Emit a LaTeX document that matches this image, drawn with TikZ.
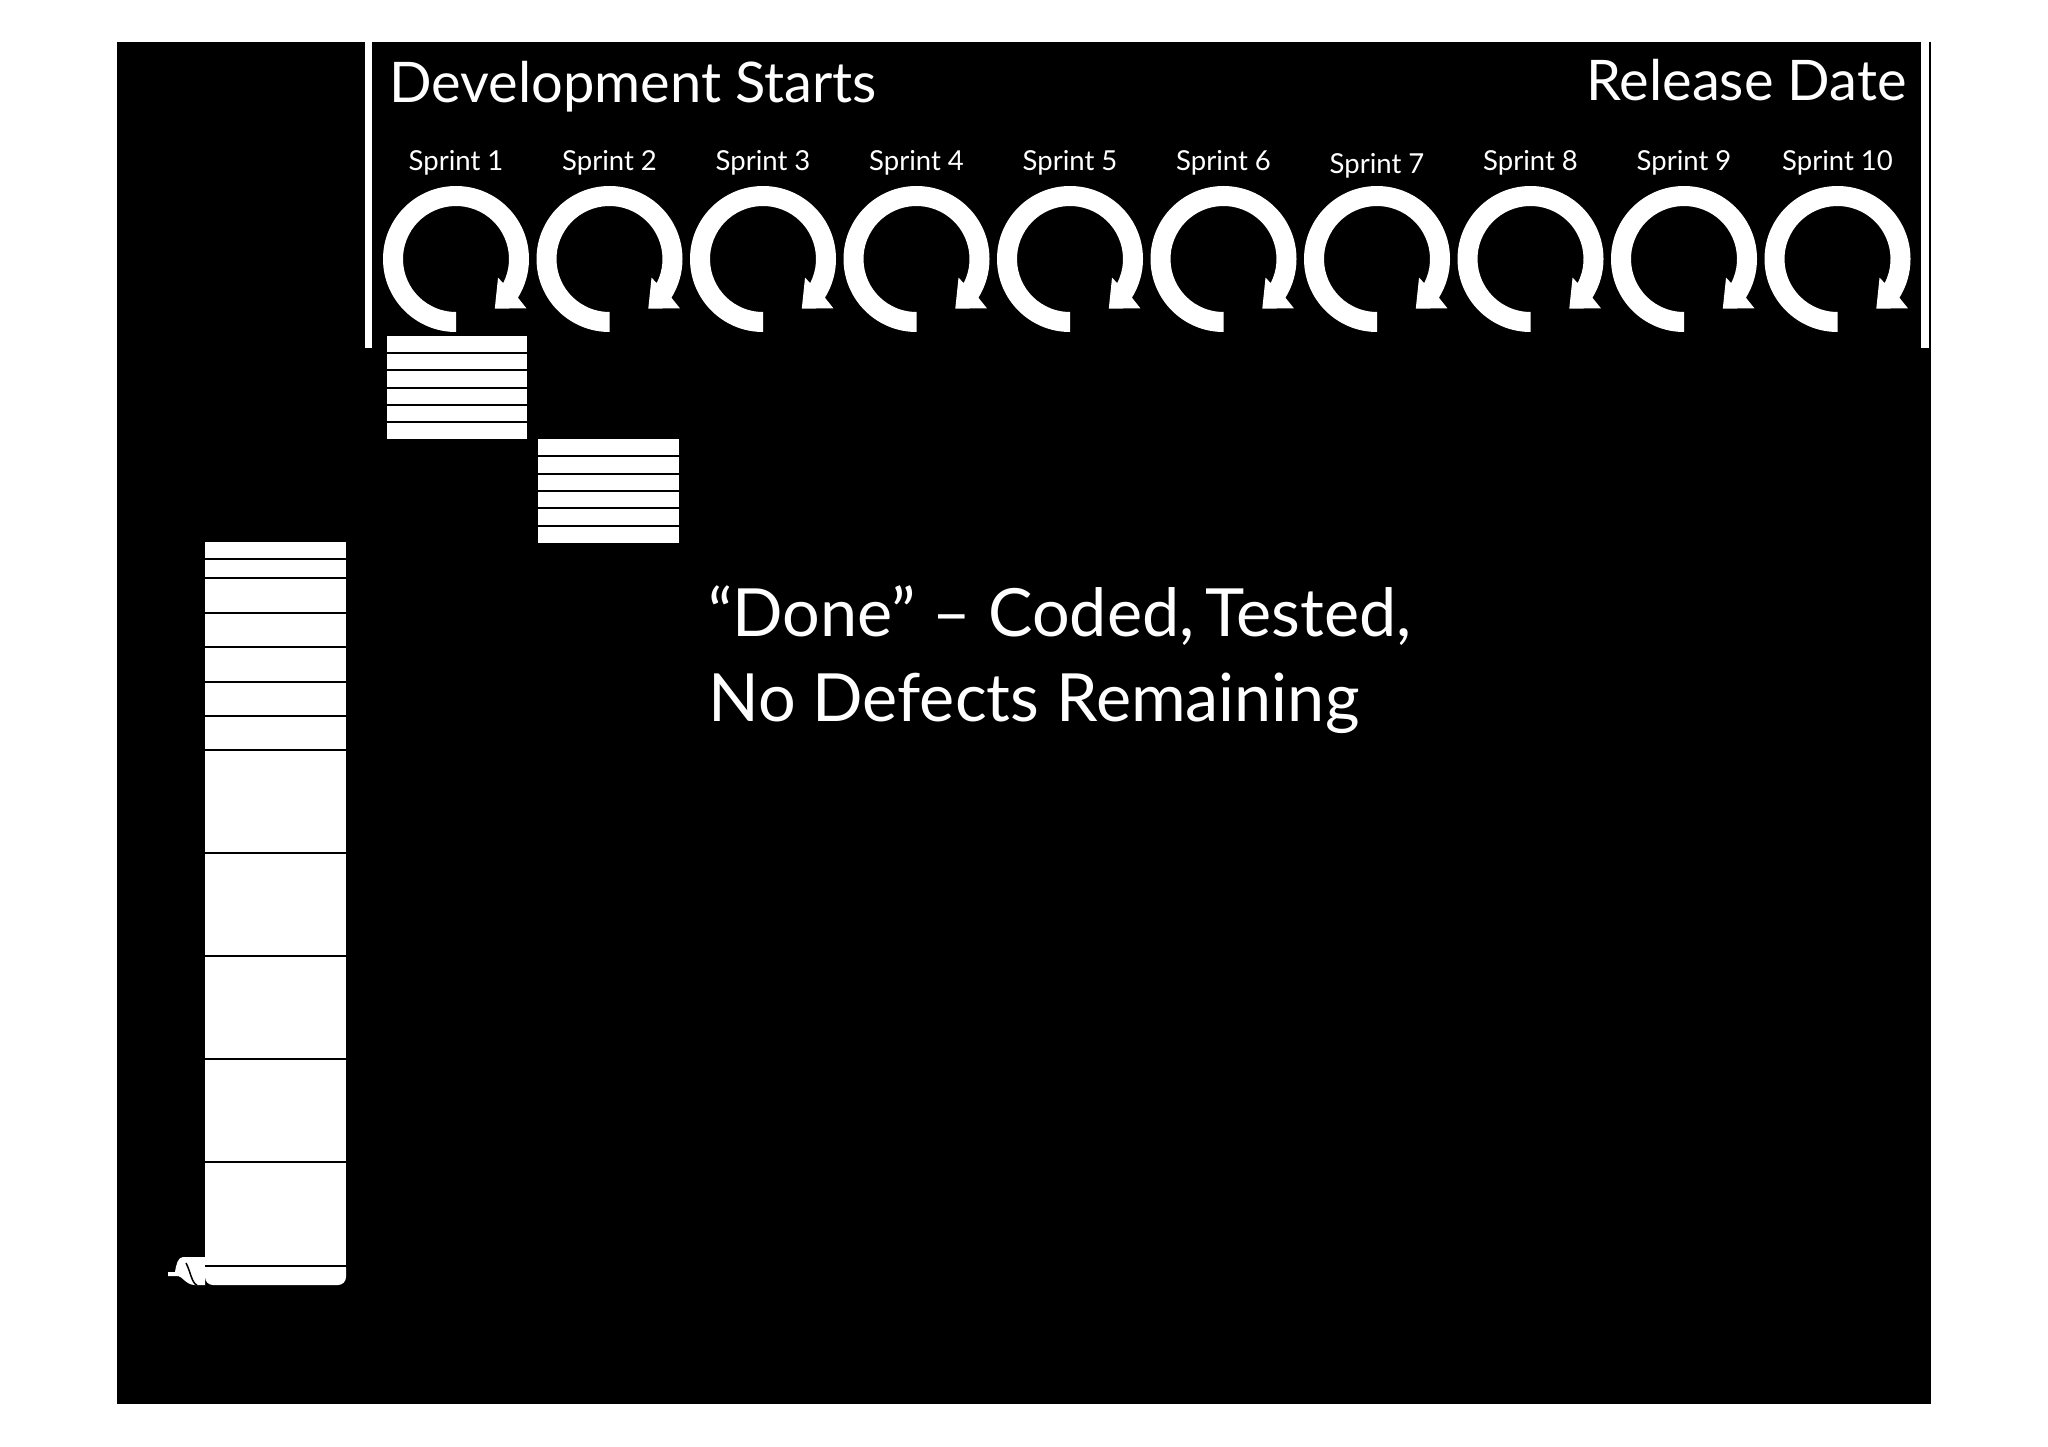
\documentclass[tikz,border=0pt]{standalone}
\usepackage{fontspec}
\setmainfont{Lato}
\usetikzlibrary{positioning}

\begin{document}
\begin{tikzpicture}[x=1pt,y=-1pt]
	\tikzset{heading/.style={text=white,inner sep=0pt,font=\fontsize{56}{66}\selectfont}}
	\tikzset{sprintlabel/.style={text=white,inner sep=0pt,anchor=base,font=\fontsize{27.5}{32}\selectfont}}
	\tikzset{donetext/.style={text=white,inner sep=0pt,anchor=base west,align=left,font=\fontsize{66.5}{85}\selectfont}}
	\tikzset{rowline/.style={black,line width=2pt}}
	%\tikzset{every node/.style={draw=red}}
	\useasboundingbox (0,0) rectangle (2048,1447);
	\fill[black] (117,42) rectangle (1931,1404);
	\fill[white] (365,42) rectangle (372,348);
	\fill[white] (1921,42) rectangle (1929,348);
	\node[heading,anchor=base west] (devstart) at (389,103) {Development Starts};
	\node[heading,anchor=base east] (release) at (1907,101) {Release Date};
	\foreach \i in {1,...,10} {
		\pgfmathsetmacro{\cx}{456+153.5*(\i-1)}
		\pgfmathsetmacro{\ly}{\i==7 ? 174 : 171}
		\node[sprintlabel] (sprint\i) at (\cx,\ly) {Sprint \i};
		\fill[white,shift={(\cx,259)}] (90:73) arc[start angle=90,end angle=392,radius=73]
			-- (395:86) -- (412:63) -- (384:46) -- (387:53) arc[start angle=387,end angle=90,radius=53] -- cycle;
	}
	% sprint backlogs
	\fill[white] (387,336) rectangle (527,439);
	\foreach \k in {1,...,5} \draw[rowline] (387,336+17.17*\k) -- (527,336+17.17*\k);
	\fill[white] (538,439) rectangle (679,543);
	\foreach \k in {1,...,5} \draw[rowline] (538,439+17.33*\k) -- (679,439+17.33*\k);
	% product backlog
	\fill[white] (205,542) rectangle (346,1277);
	\fill[white,rounded corners=8] (205,1260) rectangle (346,1285);
	\fill[white] (205,1257) -- (183,1257) .. controls (178,1257) and (176,1265) .. (175,1272) -- (168,1272)
		-- (168,1276) -- (178,1276) .. controls (182,1276) and (186,1285) .. (195,1285) -- (205,1285) -- cycle;
	\draw[black,line width=1.5pt] (186,1263) .. controls (190,1270) and (192,1284) .. (197,1285);
	\foreach \y in {559,578,613,647,682,716,750,853,956,1059,1162,1266} \draw[rowline] (205,\y) -- (346,\y);
	\node[donetext] (done) at (708,721) {“Done” – Coded,\thinspace Tested,\\No Defects Remaining};
\end{tikzpicture}
\end{document}
